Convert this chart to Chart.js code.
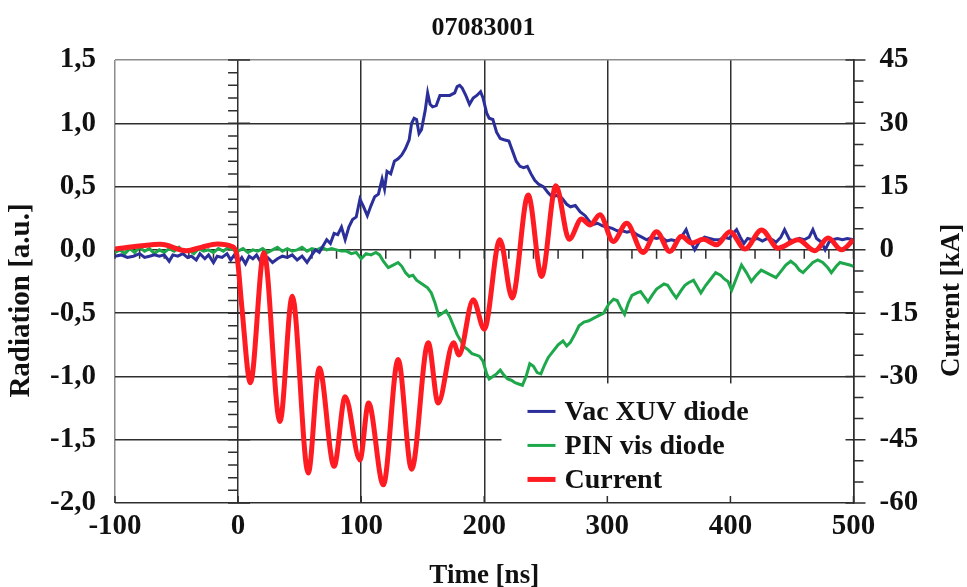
<!DOCTYPE html>
<html>
<head>
<meta charset="utf-8">
<script src="https://cdn.jsdelivr.net/npm/chart.js@4.4.0/dist/chart.umd.min.js"></script>
<style>
  html, body { margin: 0; padding: 0; background: #fff; }
</style>
</head>
<body>
<canvas id="chart" width="967" height="587"></canvas>
<script>
// shot 07083001 - radiation (left axis) and discharge current (right axis)
var chartTitle = '07083001';
var seriesNames = ['Vac XUV diode', 'PIN vis diode', 'Current'];

var xuvTime = [-100, -95, -90, -85, -80, -76, -72, -68, -64, -60, -56, -53, -49, -45, -41, -38, -34, -31, -27, -24,
    -20, -17, -13, -9, -6, -3, 0, 3, 6, 9, 12, 15, 18, 21, 24, 28, 32, 36, 40, 44, 48, 52, 56, 60, 63, 66, 69, 72,
    75, 78, 81, 84, 87, 90, 93, 96, 99, 102, 105, 108, 111, 114, 117, 119, 121, 124, 127, 130, 133, 136, 139, 141,
    143, 145, 147, 149, 152, 154, 156, 158, 161, 164, 168, 172, 176, 178, 180, 182, 185, 188, 191, 194, 197, 199,
    202, 204, 207, 210, 213, 216, 220, 223, 226, 229, 232, 235, 238, 241, 244, 248, 252, 255, 259, 263, 267, 270,
    274, 278, 282, 285, 288, 292, 296, 300, 304, 308, 312, 316, 320, 324, 328, 332, 336, 340, 344, 348, 352, 356,
    360, 364, 367, 371, 375, 379, 383, 387, 391, 395, 399, 402, 405, 408, 411, 414, 418, 422, 426, 430, 434, 437,
    441, 444, 448, 452, 456, 460, 464, 467, 470, 474, 477, 480, 483, 487, 491, 495, 500];
var xuvValues = [-0.05, -0.04, -0.06, -0.05, -0.03, -0.06, -0.05, -0.04, -0.05, -0.04, -0.09, -0.04, -0.05, -0.03,
    -0.06, -0.05, -0.08, -0.03, -0.07, -0.04, -0.1, -0.05, -0.06, -0.03, -0.08, -0.04, -0.1, -0.06, -0.11, -0.05,
    -0.07, -0.04, -0.09, -0.05, -0.06, -0.1, -0.07, -0.05, -0.06, -0.04, -0.08, -0.05, -0.1, -0.04, 0.0, -0.02, 0.03,
    0.08, 0.05, 0.13, 0.12, 0.18, 0.08, 0.18, 0.24, 0.26, 0.4, 0.34, 0.27, 0.35, 0.42, 0.44, 0.56, 0.48, 0.62, 0.6,
    0.7, 0.72, 0.75, 0.8, 0.87, 1.0, 1.04, 1.03, 0.92, 0.95, 1.1, 1.24, 1.15, 1.13, 1.14, 1.22, 1.22, 1.22, 1.24,
    1.29, 1.3, 1.28, 1.22, 1.15, 1.2, 1.22, 1.25, 1.2, 1.08, 1.04, 1.03, 0.93, 0.88, 0.87, 0.86, 0.78, 0.7, 0.66,
    0.65, 0.66, 0.6, 0.55, 0.52, 0.5, 0.45, 0.42, 0.43, 0.41, 0.36, 0.34, 0.35, 0.3, 0.27, 0.23, 0.2, 0.21, 0.19,
    0.18, 0.17, 0.15, 0.15, 0.14, 0.15, 0.12, 0.1, 0.08, 0.1, 0.09, 0.1, 0.07, 0.08, 0.07, 0.1, 0.16, 0.08, 0.0,
    0.07, 0.1, 0.09, 0.08, 0.08, 0.1, 0.09, 0.13, 0.16, 0.1, 0.05, 0.09, 0.08, 0.09, 0.07, 0.09, 0.08, 0.06, 0.1,
    0.16, 0.08, 0.07, 0.09, 0.08, 0.1, 0.16, 0.09, 0.06, 0.0, 0.06, 0.08, 0.09, 0.08, 0.09, 0.08];

var pinTime = [-100, -96, -92, -88, -84, -80, -76, -72, -68, -64, -60, -56, -52, -48, -44, -40, -36, -32, -28, -24,
    -20, -16, -12, -8, -4, 0, 4, 8, 12, 16, 20, 24, 28, 32, 36, 40, 44, 48, 52, 56, 60, 64, 68, 72, 76, 80, 84, 88,
    92, 96, 100, 104, 108, 112, 115, 118, 122, 126, 130, 133, 136, 139, 142, 145, 148, 151, 154, 157, 160, 163,
    166, 169, 172, 175, 178, 181, 184, 187, 190, 193, 196, 199, 202, 204, 207, 210, 213, 216, 219, 222, 225, 228,
    231, 234, 237, 240, 243, 246, 249, 252, 256, 260, 264, 267, 270, 274, 277, 281, 285, 289, 293, 297, 301, 305,
    308, 311, 314, 317, 320, 324, 327, 330, 333, 337, 340, 343, 346, 349, 353, 356, 360, 363, 366, 370, 373, 376,
    380, 384, 388, 392, 395, 398, 401, 405, 409, 413, 417, 421, 425, 429, 433, 437, 441, 445, 449, 453, 456, 459,
    463, 467, 471, 475, 479, 482, 486, 489, 493, 497, 500];
var pinValues = [-0.02, 0.0, -0.03, 0.01, -0.02, 0.02, -0.01, 0.01, -0.03, 0.0, -0.02, 0.01, -0.01, 0.02, -0.02,
    0.0, -0.03, 0.01, -0.01, 0.0, -0.02, 0.01, -0.01, 0.02, 0.0, -0.01, 0.01, -0.02, 0.0, -0.01, 0.01, -0.02, 0.0,
    0.02, -0.01, 0.01, -0.01, 0.0, 0.02, -0.01, 0.01, 0.0, 0.02, 0.0, 0.01, 0.0, -0.01, -0.01, -0.03, -0.02, -0.07,
    -0.03, -0.04, -0.02, -0.04, -0.09, -0.14, -0.12, -0.1, -0.13, -0.18, -0.21, -0.2, -0.24, -0.26, -0.28, -0.3,
    -0.34, -0.42, -0.52, -0.5, -0.48, -0.53, -0.6, -0.67, -0.72, -0.77, -0.79, -0.82, -0.83, -0.84, -0.88, -0.98,
    -1.02, -1.0, -0.98, -0.95, -0.99, -1.02, -1.03, -1.05, -1.06, -1.07, -1.0, -0.9, -0.92, -0.97, -0.98, -0.91,
    -0.85, -0.8, -0.75, -0.72, -0.76, -0.73, -0.66, -0.6, -0.57, -0.56, -0.54, -0.52, -0.5, -0.43, -0.39, -0.4,
    -0.46, -0.51, -0.42, -0.36, -0.34, -0.33, -0.37, -0.41, -0.35, -0.31, -0.29, -0.27, -0.28, -0.34, -0.38, -0.32,
    -0.28, -0.26, -0.24, -0.29, -0.34, -0.28, -0.23, -0.18, -0.2, -0.23, -0.25, -0.32, -0.22, -0.12, -0.18, -0.25,
    -0.2, -0.16, -0.18, -0.2, -0.22, -0.17, -0.12, -0.09, -0.12, -0.16, -0.18, -0.14, -0.1, -0.08, -0.1, -0.14,
    -0.18, -0.13, -0.1, -0.11, -0.12, -0.13];

// current in kA, turning points of the ringing waveform
var currentTime = [-100, -80, -63, -42, -30, -17, -5, -1, 3, 10, 21, 34, 44, 57, 66, 78, 87, 99, 106, 118, 130, 141,
    154.5, 162.5, 175, 179.5, 191, 200, 212.7, 222.7, 235.7, 246.6, 258.2, 269, 279, 286, 294, 304.8, 315.7, 329,
    340, 350.8, 360.3, 368.5, 378, 388.8, 399.6, 411.8, 425.3, 438.8, 455, 468.6, 479.4, 490.3, 500];
var currentValues = [0.2, 0.9, 1.3, -0.2, 0.6, 1.4, 0.8, -1.2, -13.4, -31.5, -0.7, -40.7, -11, -52.9, -28, -51.3,
    -34.8, -49.8, -36.3, -55.7, -26, -52, -22, -36.3, -22, -24.9, -11.8, -18.8, 2.4, -11.4, 13, -6.3, 15.2, 2.5,
    7.3, 5.9, 8.3, 2.0, 6.3, -0.6, 4.3, -0.4, 3.2, 1.6, 2.5, 1.2, 4.3, 0.2, 4.7, 0.4, 2.4, -0.2, 2.8, 0, 2.4];

var serif = "'Liberation Serif', 'Times New Roman', serif";
var gridDark = '#2e2e2e';
var gridLight = '#8c8c8c';

function toPoints(xs, ys) {
    return xs.map(function(x, i) { return {x: x, y: ys[i]}; });
}

function commaLabel(v) {
    return v.toFixed(1).replace('-0.0', '0.0').replace('.', ',');
}

function eachItem(list, fn) {
    for (var i = 0; i < list.length; i++) fn(list[i], i);
}

// extra axis furniture: legend box, minor ticks, rotated y titles
var decorations = {
    id: 'decorations',
    beforeDatasetsDraw: function(chart) {
        var ctx = chart.ctx, area = chart.chartArea;
        var sx = chart.scales.x, sy = chart.scales.y;
        var x0 = sx.getPixelForValue(0), y0 = sy.getPixelForValue(0);
        var i, p;
        ctx.save();
        // white box for the legend covers the grid
        var boxTop = sy.getPixelForValue(-1.0) + 7;
        var boxLeft = area.right - 352;
        ctx.fillStyle = '#fff';
        ctx.fillRect(boxLeft, boxTop, area.right - 1 - boxLeft, area.bottom - 1 - boxTop);

        ctx.strokeStyle = gridDark;
        ctx.lineWidth = 1.5;
        ctx.beginPath();
        // ticks on the t = 0 axis, every 0.1
        for (i = -20; i <= 15; i++) {
            p = sy.getPixelForValue(i / 10);
            ctx.moveTo(x0 - 10, p);
            ctx.lineTo(i % 5 === 0 ? x0 + 12 : x0, p);
        }
        // ticks under the zero line, every 20 ns
        for (i = -100; i <= 500; i += 20) {
            p = sx.getPixelForValue(i);
            ctx.moveTo(p, y0);
            ctx.lineTo(p, y0 + 9);
        }
        // bottom axis ticks
        for (i = -100; i <= 500; i += 100) {
            p = sx.getPixelForValue(i);
            ctx.moveTo(p, area.bottom);
            ctx.lineTo(p, area.bottom - 7);
        }
        ctx.stroke();
        ctx.restore();
    },
    afterDatasetsDraw: function(chart) {
        var ctx = chart.ctx, area = chart.chartArea;
        var sets = chart.data.datasets;
        var left = area.right - 326;
        var rowY = chart.scales.y.getPixelForValue(-1.0) + 35;
        ctx.save();
        ctx.font = 'bold 28px ' + serif;
        ctx.textAlign = 'left';
        ctx.textBaseline = 'middle';
        eachItem(sets, function(ds, idx) {
            var yy = rowY + idx * 34;
            ctx.strokeStyle = ds.borderColor;
            ctx.lineWidth = idx === 2 ? 5 : 3;
            ctx.beginPath();
            ctx.moveTo(left, yy);
            ctx.lineTo(left + 28, yy);
            ctx.stroke();
            ctx.fillStyle = '#111';
            ctx.fillText(ds.label, left + 37, yy + 1);
        });
        ctx.restore();
    },
    afterDraw: function(chart) {
        var ctx = chart.ctx, area = chart.chartArea;
        var s1 = chart.scales.y1;
        var k, p;
        ctx.save();
        // outward ticks of the current axis, every 5 kA
        ctx.strokeStyle = gridDark;
        ctx.lineWidth = 1.5;
        ctx.beginPath();
        for (k = -60; k <= 45; k += 5) {
            p = s1.getPixelForValue(k);
            ctx.moveTo(k % 15 === 0 ? area.right - 8 : area.right, p);
            ctx.lineTo(area.right + (k % 15 === 0 ? 12 : 10), p);
        }
        ctx.stroke();

        ctx.fillStyle = '#111';
        ctx.textAlign = 'center';
        ctx.textBaseline = 'middle';
        var mid = (area.top + area.bottom) / 2 + 19;
        ctx.save();
        ctx.font = 'bold 29px ' + serif;
        ctx.translate(22, mid);
        ctx.rotate(-Math.PI / 2);
        ctx.fillText('Radiation [a.u.]', 0, 0);
        ctx.restore();
        ctx.font = 'bold 27px ' + serif;
        ctx.translate(952, mid);
        ctx.rotate(-Math.PI / 2);
        ctx.fillText('Current [kA]', 0, 0);
        ctx.restore();
    }
};

var tickFont = {family: serif, size: 29, weight: 'bold'};

new Chart(document.getElementById('chart'), {
    type: 'line',
    data: {
        datasets: [{
            label: seriesNames[0],
            data: toPoints(xuvTime, xuvValues),
            borderColor: '#2b2f99',
            borderWidth: 3,
            yAxisID: 'y',
            order: 1,
            tension: 0,
            pointRadius: 0
        }, {
            label: seriesNames[1],
            data: toPoints(pinTime, pinValues),
            borderColor: '#1ea84b',
            borderWidth: 3,
            yAxisID: 'y',
            order: 2,
            tension: 0,
            pointRadius: 0
        }, {
            label: seriesNames[2],
            data: toPoints(currentTime, currentValues),
            borderColor: '#fe1b22',
            borderWidth: 5,
            yAxisID: 'y1',
            order: 0,
            cubicInterpolationMode: 'monotone',
            pointRadius: 0
        }]
    },
    options: {
        responsive: false,
        animation: false,
        layout: {padding: 0},
        plugins: {
            legend: {display: false},
            tooltip: {enabled: false},
            title: {
                display: true,
                text: chartTitle,
                color: '#111',
                font: {family: serif, size: 26, weight: 'bold'},
                padding: {top: 13, bottom: 15.8}
            }
        },
        scales: {
            x: {
                type: 'linear',
                min: -100,
                max: 500,
                ticks: {stepSize: 100, color: '#111', font: tickFont, padding: 6, maxRotation: 0},
                grid: {
                    color: function(c) { return c.tick && c.tick.value === -100 ? gridLight : gridDark; },
                    lineWidth: 1.5,
                    drawTicks: false
                },
                border: {display: false},
                title: {
                    display: true,
                    text: 'Time [ns]',
                    color: '#111',
                    font: {family: serif, size: 27, weight: 'bold', lineHeight: 0.8},
                    padding: 0
                },
                afterFit: function(scale) { scale.height = 84; }
            },
            y: {
                position: 'left',
                min: -2,
                max: 1.5,
                ticks: {stepSize: 0.5, color: '#111', font: tickFont, padding: 19, callback: commaLabel},
                grid: {
                    color: function(c) { return c.tick && c.tick.value === 1.5 ? gridLight : gridDark; },
                    lineWidth: 1.5,
                    drawTicks: false
                },
                border: {display: false},
                afterFit: function(scale) { scale.width = 115; }
            },
            y1: {
                position: 'right',
                min: -60,
                max: 45,
                ticks: {stepSize: 15, color: '#111', font: tickFont, padding: 26},
                grid: {display: false, drawTicks: false},
                border: {display: true, color: gridDark, width: 1.5},
                afterFit: function(scale) { scale.width = 113.5; }
            }
        }
    },
    plugins: [decorations]
});
</script>
</body>
</html>
